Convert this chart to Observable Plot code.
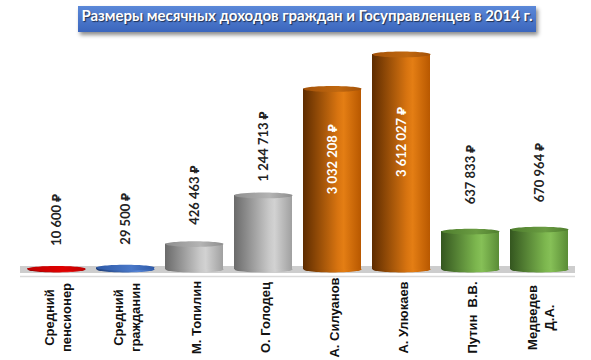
<!DOCTYPE html>
<html><head><meta charset="utf-8">
<script src="https://cdn.jsdelivr.net/npm/d3@7"></script>
<script src="https://cdn.jsdelivr.net/npm/@observablehq/plot@0.6"></script>
<style>
body{margin:0;background:#fff;}
#wrap{position:relative;width:591px;height:360px;overflow:hidden;}
#title{position:absolute;left:78px;top:6px;width:458px;height:26px;line-height:26px;text-align:center;
 background:linear-gradient(#5b88d8,#3b66bd);color:#fff;font:bold 15px Lato,"Noto Sans",sans-serif;
 text-shadow:1px 1px 1px rgba(0,0,0,0.6);box-shadow:2px 3px 4px rgba(0,0,0,0.45);z-index:2;white-space:nowrap;}
#chart{position:absolute;left:0;top:0;}
</style></head><body>
<div id="wrap"><div id="title">Размеры месячных доходов граждан и Госуправленцев в 2014 г.</div><div id="chart"></div></div>
<script>
const categories = ["Средний\nпенсионер", "Средний\nгражданин", "М. Топилин", "О. Голодец", "А. Силуанов", "А. Улюкаев", "Путин  В.В.", "Медведев\nД.А."];
const incomes = [10600, 29500, 426463, 1244713, 3032208, 3612027, 637833, 670964];
const valueLabels = ["10 600 ₽", "29 500 ₽", "426 463 ₽", "1 244 713 ₽", "3 032 208 ₽", "3 612 027 ₽", "637 833 ₽", "670 964 ₽"];
const groups = ["red", "blue", "grey", "grey", "orange", "orange", "green", "green"];

const rows = categories.map((c, i) => ({cat: c, value: incomes[i], label: valueLabels[i], group: groups[i]}));

const ellipse = {
  draw(context, size) {
    const rx = Math.sqrt(size / Math.PI), ry = rx * 0.1, k = 0.5523;
    context.moveTo(rx, 0);
    context.bezierCurveTo(rx, ry * k, rx * k, ry, 0, ry);
    context.bezierCurveTo(-rx * k, ry, -rx, ry * k, -rx, 0);
    context.bezierCurveTo(-rx, -ry * k, -rx * k, -ry, 0, -ry);
    context.bezierCurveTo(rx * k, -ry, rx, -ry * k, rx, 0);
    context.closePath();
  }
};

const palette = {
  red:    {body: ["#8a0000", "#e01010", "#f03030", "#b00000"], top: ["#c00000", "#e00000"]},
  blue:   {body: ["#1f3f7a", "#4a78c8", "#5a88d8", "#2e5aa8"], top: ["#2e5aa8", "#4a78c8"]},
  grey:   {body: ["#6a6a6a", "#c8c8c8", "#d2d2d2", "#a0a0a0"], top: ["#8e8e8e", "#b4b4b4"]},
  orange: {body: ["#5e2c00", "#d87410", "#e47e14", "#b85800"], top: ["#a45208", "#c06810"]},
  green:  {body: ["#34561f", "#7cb64e", "#86c057", "#5a8c36"], top: ["#4f7e2e", "#6a9c42"]}
};
const order = ["red", "blue", "grey", "orange", "green"];

const marks = [
  Plot.ruleY([0], {stroke: "#cdcdcd", strokeWidth: 7}),
  Plot.ruleY([0], {stroke: "#dadada", strokeWidth: 1.5, dy: 7})
];
for (const g of order) {
  const data = rows.filter(d => d.group === g);
  marks.push(
    Plot.dot(data, {x: "cat", y: d => 0, symbol: ellipse, r: 29, fill: `url(#body-${g})`}),
    Plot.barY(data, {x: "cat", y: "value", fill: `url(#body-${g})`}),
    Plot.dot(data, {x: "cat", y: "value", symbol: ellipse, r: 29, fill: `url(#top-${g})`})
  );
}
// value labels
marks.push(
  Plot.text(rows.filter(d => d.group === "red" || d.group === "blue" || d.group === "grey"), {
    x: "cat", y: "value", text: "label", rotate: -90, textAnchor: "middle", dy: -49,
    fill: "#222", fontSize: 13, fontWeight: "bold", fontFamily: "Lato, 'Noto Sans', sans-serif"}),
  Plot.text(rows.filter(d => d.group === "green"), {
    x: "cat", y: "value", text: "label", rotate: -90, textAnchor: "middle", dy: -57,
    fill: "#222", fontSize: 13, fontWeight: "bold", fontFamily: "Lato, 'Noto Sans', sans-serif"}),
  Plot.text(rows.filter(d => d.group === "orange"), {
    x: "cat", y: d => d.value / 2, text: "label", rotate: -90, textAnchor: "middle", dy: -20,
    fill: "#fff", fontSize: 13, fontWeight: "bold", fontFamily: "Lato, 'Noto Sans', sans-serif"}),
  Plot.text(rows, {
    x: "cat", y: d => 0, text: "cat", rotate: -90, textAnchor: "middle", lineAnchor: "middle", dy: 48, dx: 1,
    fill: "#111", fontSize: 13, fontWeight: "bold", fontFamily: "'Liberation Sans', Arial, sans-serif", lineHeight: 1.3})
);

const svg = Plot.plot({
  width: 591, height: 360,
  marginLeft: 20, marginRight: 16, marginTop: 54, marginBottom: 91,
  x: {domain: categories, paddingInner: 0.16, paddingOuter: 0.08, axis: null},
  y: {domain: [0, d3.max(incomes)], axis: null},
  style: {background: "transparent", overflow: "visible"},
  marks
});

const defs = d3.select(svg).insert("defs", ":first-child");
for (const g of order) {
  const b = defs.append("linearGradient").attr("id", `body-${g}`).attr("x1", 0).attr("x2", 1).attr("y1", 0).attr("y2", 0);
  [0, 0.6, 0.7, 1].forEach((o, i) => b.append("stop").attr("offset", o).attr("stop-color", palette[g].body[i]));
  const t = defs.append("linearGradient").attr("id", `top-${g}`).attr("x1", 0).attr("x2", 1).attr("y1", 0).attr("y2", 0);
  t.append("stop").attr("offset", 0).attr("stop-color", palette[g].top[0]);
  t.append("stop").attr("offset", 0.6).attr("stop-color", palette[g].top[1]);
  t.append("stop").attr("offset", 1).attr("stop-color", palette[g].top[0]);
}
document.getElementById("chart").appendChild(svg);
</script>
</body></html>
